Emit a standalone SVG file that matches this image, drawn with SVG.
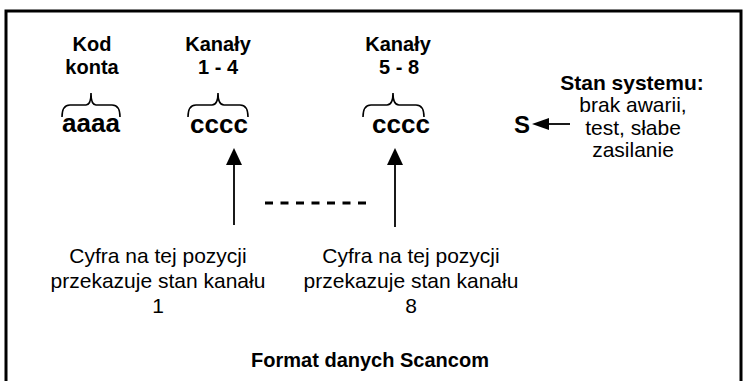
<svg xmlns="http://www.w3.org/2000/svg" width="743" height="381" viewBox="0 0 743 381">
<style>
text{font-family:"Liberation Sans",Arial,sans-serif;fill:#000}
.b{font-weight:bold;font-size:20px;text-anchor:middle}
.r{font-size:21px;text-anchor:middle}
.big{font-weight:bold;font-size:26px}
.brace{fill:none;stroke:#000;stroke-width:1.6}
.ln{stroke:#000;stroke-width:1.8}
</style>
<rect width="743" height="381" fill="#fff"/>
<g id="frame" fill="none" stroke="#000" stroke-width="3">
<path d="M6,400 L6,11 L741,11 L741,400"/>
</g>
<g id="kod">
<text class="b" x="92" y="51">Kod</text>
<text class="b" x="92" y="74">konta</text>
<path class="brace" d="M62,117 Q62,105 70,105 L86,105 Q91,105 91,93 Q91,105 96,105 L112,105 Q120,105 120,117"/>
<text class="big" x="62" y="132">aaaa</text>
</g>
<g id="kanaly14">
<text class="b" x="218" y="51">Kanały</text>
<text class="b" x="218" y="74">1 - 4</text>
<path class="brace" d="M188,117 Q188,105 196,105 L212,105 Q218,105 218,93 Q218,105 224,105 L240,105 Q248,105 248,117"/>
<text class="big" x="190" y="133">cccc</text>
</g>
<g id="kanaly58">
<text class="b" x="398" y="51">Kanały</text>
<text class="b" x="399" y="74">5 - 8</text>
<path class="brace" d="M363,117 Q363,105 371,105 L387,105 Q393,105 393,93 Q393,105 399,105 L416,105 Q424,105 424,117"/>
<text class="big" x="372" y="133">cccc</text>
</g>
<g id="stan">
<text class="b" x="632" y="90" style="font-size:21px">Stan systemu:</text>
<text class="r" x="633" y="112">brak awarii,</text>
<text class="r" x="633" y="135">test, słabe</text>
<text class="r" x="633" y="157">zasilanie</text>
</g>
<g id="s">
<text x="514" y="133" style="font-weight:bold;font-size:24px">S</text>
</g>
<g id="opis1">
<text class="r" x="158" y="263">Cyfra na tej pozycji</text>
<text class="r" x="158" y="288">przekazuje stan kanału</text>
<text class="r" x="158" y="313">1</text>
</g>
<g id="opis8">
<text class="r" x="411" y="263">Cyfra na tej pozycji</text>
<text class="r" x="411" y="288">przekazuje stan kanału</text>
<text class="r" x="411" y="313">8</text>
</g>
<g id="tytul">
<text class="b" x="370" y="367">Format danych Scancom</text>
</g>
<g id="connectors">
<line class="ln" x1="570" y1="124" x2="545" y2="124"/>
<polygon points="532,124 549,118 549,130"/>
<line class="ln" x1="234" y1="225" x2="234" y2="162"/>
<polygon points="234,148 226,165 242,165"/>
<line class="ln" x1="395" y1="227" x2="395" y2="162"/>
<polygon points="395,148 387,165 403,165"/>
<line x1="265" y1="203" x2="372" y2="203" stroke="#000" stroke-width="3" stroke-dasharray="8 7.5"/>
</g>
</svg>
